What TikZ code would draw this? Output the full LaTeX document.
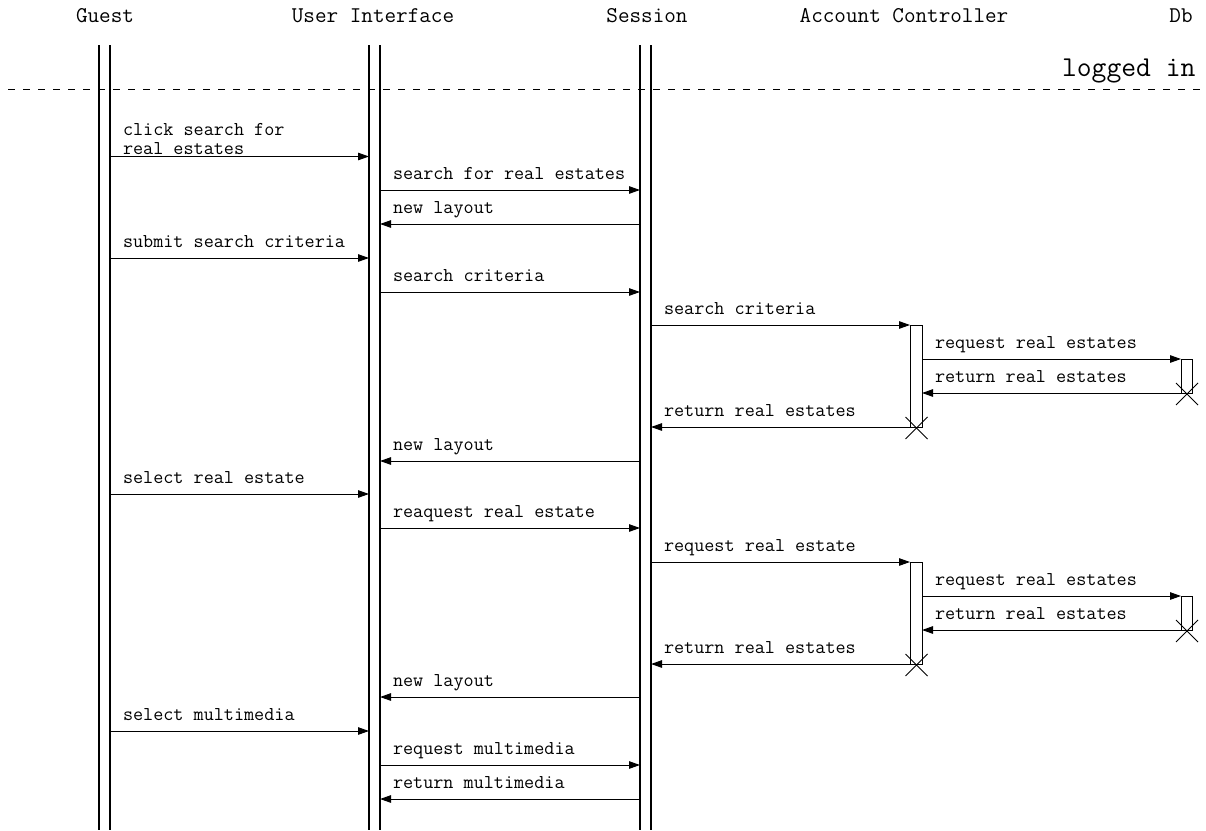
\documentclass[tikz,border=0pt]{standalone}
\usetikzlibrary{arrows.meta,calc}
\begin{document}
\begin{tikzpicture}[x=1pt,y=-1pt,line width=1pt,
  msg/.style={-{Triangle[length=11pt,width=7.5pt]}},
  lbl/.style={anchor=base west,inner sep=0pt,font=\ttfamily\fontsize{19.6}{22}\selectfont},
  head/.style={anchor=base,inner sep=0pt,font=\ttfamily\fontsize{22.5}{26}\selectfont},
  life/.style={line width=1.1pt},
  act/.style={draw,fill=white,line width=1pt},
  kill/.style={line width=1pt}]
\useasboundingbox (0,0) rectangle (1206,830);
% headers
\node[head] (hG) at (105,22) {Guest};
\node[head] (hU) at (373,22) {User Interface};
\node[head] (hS) at (647,22) {Session};
\node[head] (hA) at (904,22) {Account Controller};
\node[head] (hD) at (1181,22) {Db};
% fragment divider
\coordinate (dl) at (8,89);
\coordinate (dr) at (1206,89);
\draw[dash pattern=on 7pt off 8pt] (dl) -- (dr);
\node[anchor=base east,inner sep=0pt,font=\ttfamily\fontsize{28.8}{32}\selectfont] (lg) at (1196,76) {logged in};
% lifelines
\foreach \n/\x in {G1/99,G2/110,U1/369,U2/380,S1/640,S2/651}{
  \coordinate (\n t) at (\x,45);
  \coordinate (\n b) at (\x,830);
  \draw[life] (\n t) -- (\n b);
}
% message helper: name, y, from x, to x, label
\newcommand\sqmsg[5]{%
  \coordinate (#1s) at (#3,#2);
  \coordinate (#1e) at (#4,#2);
  \draw[msg] (#1s) -- (#1e);
  \node[lbl] (#1l) at ({min(#3,#4)+12.5},{#2-10.5}) {#5};
}
% activations
\node[act,minimum width=12pt,minimum height=102pt,inner sep=0pt,anchor=north west] (a1) at (910,325) {};
\node[act,minimum width=11pt,minimum height=34pt,inner sep=0pt,anchor=north west] (d1) at (1181,359) {};
\node[act,minimum width=12pt,minimum height=102pt,inner sep=0pt,anchor=north west] (a2) at (910,562) {};
\node[act,minimum width=11pt,minimum height=34pt,inner sep=0pt,anchor=north west] (d2) at (1181,596) {};
\foreach \b in {a1,d1,a2,d2}{
  \draw[kill] ($(\b.south)+(-11,-11)$) -- ($(\b.south)+(11,11)$);
  \draw[kill] ($(\b.south)+(-11,11)$) -- ($(\b.south)+(11,-11)$);
}
% messages
\coordinate (m1s) at (110,156.5);
\coordinate (m1e) at (369,156.5);
\draw[msg] (m1s) -- (m1e);
\node[lbl] (m1l) at (122.5,135) {click search for};
\node[lbl] (m1l2) at (122.5,154) {real estates};
\sqmsg{m2}{190}{380}{640}{search for real estates}
\sqmsg{m3}{224}{640}{380}{new layout}
\sqmsg{m4}{258}{110}{369}{submit search criteria}
\sqmsg{m5}{292}{380}{640}{search criteria}
\sqmsg{m6}{325}{651}{910}{search criteria}
\sqmsg{m7}{359}{922}{1181}{request real estates}
\sqmsg{m8}{393}{1181}{922}{return real estates}
\sqmsg{m9}{427}{910}{651}{return real estates}
\sqmsg{m10}{461}{640}{380}{new layout}
\sqmsg{m11}{494}{110}{369}{select real estate}
\sqmsg{m12}{528}{380}{640}{reaquest real estate}
\sqmsg{m13}{562}{651}{910}{request real estate}
\sqmsg{m14}{596}{922}{1181}{request real estates}
\sqmsg{m15}{630}{1181}{922}{return real estates}
\sqmsg{m16}{664}{910}{651}{return real estates}
\sqmsg{m17}{697}{640}{380}{new layout}
\sqmsg{m18}{731}{110}{369}{select multimedia}
\sqmsg{m19}{765}{380}{640}{request multimedia}
\sqmsg{m20}{799}{640}{380}{return multimedia}
\end{tikzpicture}
\end{document}
